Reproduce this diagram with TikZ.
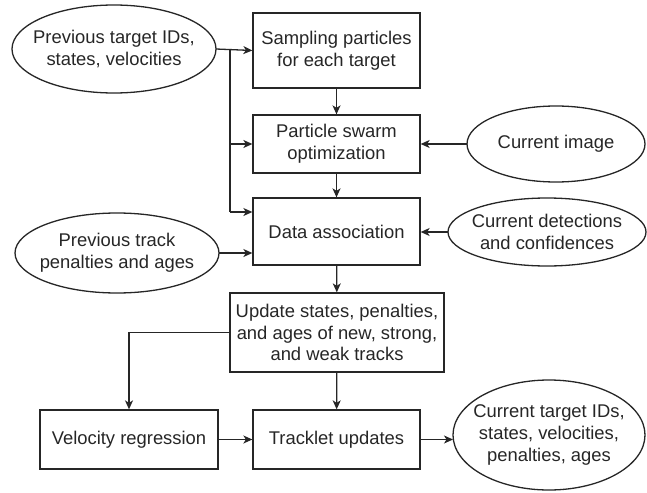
\documentclass[tikz,border=0pt]{standalone}
\usepackage{fontspec}
\setmainfont{Liberation Sans}
\usetikzlibrary{arrows.meta}
\begin{document}
\begin{tikzpicture}[x=1pt,y=-1pt,
  every node/.style={font=\fontsize{18.4}{21.7}\selectfont, align=center, text=black!85},
  procbox/.style={draw=black!85, line width=1.3pt, minimum width=#1, inner sep=2pt},
  procbox/.default=167pt,
  dataell/.style={draw=black!85, ellipse, line width=1.3pt, inner sep=0pt},
  flow/.style={draw=black!85, line width=1.3pt, -{Stealth[length=9pt,width=8pt,inset=2.5pt]}}
]
\useasboundingbox (0,0) rectangle (647,492);

% process boxes
\node[procbox, minimum height=75pt] (samp) at (336.5,50.5) {Sampling particles\\for each target};
\node[procbox, minimum height=58pt] (pso) at (336.5,144) {Particle swarm\\optimization};
\node[procbox, minimum height=67pt] (assoc) at (336.5,231.5) {Data association};
\node[procbox=214pt, minimum height=79pt] (upd) at (337,332.5) {Update states, penalties,\\and ages of new, strong,\\and weak tracks};
\node[procbox=178pt, minimum height=59pt] (vel) at (129,439.5) {Velocity regression};
\node[procbox, minimum height=59pt] (trk) at (336.5,439.5) {Tracklet updates};

% inputs and outputs
\draw[black!85, line width=1.3pt] (114,49) ellipse [x radius=102, y radius=44];
\node (prevtgt) at (114,49) {Previous target IDs,\\states, velocities};
\coordinate (prevtgtE) at (216,49);

\draw[black!85, line width=1.3pt] (117,253) ellipse [x radius=102, y radius=40];
\node (prevtrk) at (117,253) {Previous track\\penalties and ages};
\coordinate (prevtrkE) at (219,253);

\draw[black!85, line width=1.3pt] (556,144) ellipse [x radius=89, y radius=38];
\node (img) at (556,144) {Current image};
\coordinate (imgW) at (467,144);

\draw[black!85, line width=1.3pt] (547,232) ellipse [x radius=99, y radius=34];
\node (det) at (547,232) {Current detections\\and confidences};
\coordinate (detW) at (448,232);

\draw[black!85, line width=1.3pt] (549,435) ellipse [x radius=96, y radius=55];
\node (out) at (549,435) {Current target IDs,\\states, velocities,\\penalties, ages};
\coordinate (outW) at (453,435);

% fan-out of the previous targets
\coordinate (split) at (230,49);
\draw[flow] (prevtgtE) -- (samp.west);
\draw[black!85, line width=1.3pt] (split) -- (230,212);
\draw[flow] (split |- pso.west) -- (pso.west);
\draw[flow] (230,212) -- (assoc.west |- 0,212);

% main chain
\draw[flow] (samp) -- (pso);
\draw[flow] (pso) -- (assoc);
\draw[flow] (assoc) -- (upd);
\draw[flow] (upd) -- (trk);
\draw[flow] (upd.west) -| (vel.north);
\draw[flow] (vel) -- (trk);
\draw[flow] (trk.east) -- (outW |- trk.east);

% side inputs
\draw[flow] (imgW) -- (pso.east);
\draw[flow] (detW) -- (assoc.east |- detW);
\draw[flow] (prevtrkE) -- (assoc.west |- prevtrkE);
\end{tikzpicture}
\end{document}
